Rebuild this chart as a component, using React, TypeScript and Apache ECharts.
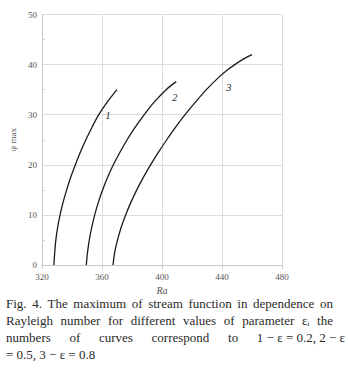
import React, { useEffect, useRef } from "react";
import * as echarts from "echarts";

const xMin = 320;
const xMax = 480;
const xStep = 40;
const yMin = 0;
const yMax = 50;
const yStep = 10;

const curve1Ra = [328, 328.55, 329.3, 330.5, 332.1, 334.1, 336.5, 339.2, 342.3, 345.6, 349.3, 353.4, 357.9, 363.5, 370];
const curve1Psi = [0, 2.5, 5, 7.5, 10, 12.5, 15, 17.5, 20, 22.5, 25, 27.5, 30, 32.5, 35];

const curve2Ra = [349.6, 350.4, 351.6, 353.2, 355.2, 357.6, 360.5, 363.8, 367.6, 372, 376.8, 382.2, 388.2, 394.8, 402.8, 409.5];
const curve2Psi = [0, 2.5, 5, 7.5, 10, 12.5, 15, 17.5, 20, 22.5, 25, 27.5, 30, 32.5, 35, 36.6];

const curve3Ra = [367.4, 368.5, 370.4, 372.8, 375.8, 379.3, 383.2, 387.6, 392.4, 397.6, 403.2, 409.1, 415.4, 422.3, 429.6, 438, 444, 449.5, 454.8, 460];
const curve3Psi = [0, 2.5, 5, 7.5, 10, 12.5, 15, 17.5, 20, 22.5, 25, 27.5, 30, 32.5, 35, 37.5, 39, 40.2, 41.2, 42];

const curveNames = ["1", "2", "3"];
const curveLabelRa = [364, 408.5, 444.5];
const curveLabelPsi = [29.9, 33.5, 35.5];

const yAxisName = "ψ max";
const xAxisName = "Ra";

const captionLines = [
  ["Fig.", "4.", "The", "maximum", "of", "stream", "function", "in", "dependence", "on"],
  ["Rayleigh", "number", "for", "different", "values", "of", "parameter", "εᵢ", "the"],
  ["numbers", "of", "curves", "correspond", "to", "1 − ε = 0.2, 2 − ε"],
  ["= 0.5, 3 − ε = 0.8"],
];

const pairs = (xs: number[], ys: number[]) => xs.map((x, i) => [x, ys[i]]);

export default function App() {
  const ref = useRef<HTMLDivElement>(null);
  useEffect(() => {
    document.body.style.margin = "0";
    if (!ref.current) return;
    const chart = echarts.init(ref.current, null, { renderer: "svg" });
    const tickFont = { fontFamily: "Liberation Serif", fontSize: 9, color: "#555" };
    const lineStyle = { color: "#1a1a1a", width: 1.3 };
    const mkSeries = (name: string, xs: number[], ys: number[]) => ({
      type: "line",
      name,
      data: pairs(xs, ys),
      smooth: 0.3,
      showSymbol: false,
      lineStyle,
      silent: true,
    });
    chart.setOption({
      animation: false,
      grid: { left: 32, right: 66, top: 14.5, bottom: 106, containLabel: false },
      xAxis: {
        type: "value",
        min: xMin,
        max: xMax,
        interval: xStep,
        name: xAxisName,
        nameLocation: "middle",
        nameGap: 19,
        nameTextStyle: { fontFamily: "Liberation Serif", fontSize: 10, fontStyle: "italic", color: "#555" },
        axisLine: { show: true, lineStyle: { color: "#c8c8c8" } },
        axisTick: { show: true, length: 4, lineStyle: { color: "#c8c8c8" } },
        axisLabel: { ...tickFont, margin: 7 },
        splitLine: { show: true, lineStyle: { color: "#dcdcdc", width: 1 } },
      },
      yAxis: {
        type: "value",
        min: yMin,
        max: yMax,
        interval: yStep,
        name: yAxisName,
        nameLocation: "middle",
        nameGap: 18,
        nameTextStyle: { fontFamily: "Liberation Serif", fontSize: 9, color: "#555" },
        axisLine: { show: true, lineStyle: { color: "#c8c8c8" } },
        axisTick: { show: false },
        minorTick: { show: true, splitNumber: 2, length: -3, lineStyle: { color: "#d0d0d0" } },
        axisLabel: { ...tickFont, margin: 5 },
        splitLine: { show: true, lineStyle: { color: "#dcdcdc", width: 1 } },
      },
      series: [
        mkSeries("1", curve1Ra, curve1Psi),
        mkSeries("2", curve2Ra, curve2Psi),
        mkSeries("3", curve3Ra, curve3Psi),
      ],
    });

    const graphics: any[] = [];
    curveNames.forEach((n, i) => {
      const [px, py] = chart.convertToPixel({ gridIndex: 0 }, [curveLabelRa[i], curveLabelPsi[i]]) as number[];
      graphics.push({
        type: "text",
        x: px,
        y: py,
        style: {
          text: n,
          fontFamily: "Liberation Serif",
          fontSize: 11,
          fontStyle: "italic",
          fill: "#333",
          align: "center",
          verticalAlign: "middle",
        },
      });
    });

    const capFont = 13;
    const capFamily = "Liberation Serif";
    const ctx = document.createElement("canvas").getContext("2d")!;
    ctx.font = `${capFont}px "${capFamily}"`;
    const lineY = [303, 320, 337, 354];
    const lineRight = [333, 333, 345, 0];
    const left = 6;
    captionLines.forEach((words, li) => {
      const widths = words.map((w) => ctx.measureText(w).width);
      let gap = ctx.measureText(" ").width;
      if (lineRight[li] > 0 && words.length > 1) {
        const total = widths.reduce((a, b) => a + b, 0);
        gap = (lineRight[li] - left - total) / (words.length - 1);
      }
      let x = left;
      words.forEach((w, wi) => {
        graphics.push({
          type: "text",
          x,
          y: lineY[li],
          style: {
            text: w,
            fontFamily: capFamily,
            fontSize: capFont,
            fill: "#2a2a2a",
            align: "left",
            verticalAlign: "middle",
          },
        });
        x += widths[wi] + gap;
      });
    });
    chart.setOption({ graphic: graphics });
    return () => chart.dispose();
  }, []);
  return <div ref={ref} style={{ width: 348, height: 371 }} />;
}
